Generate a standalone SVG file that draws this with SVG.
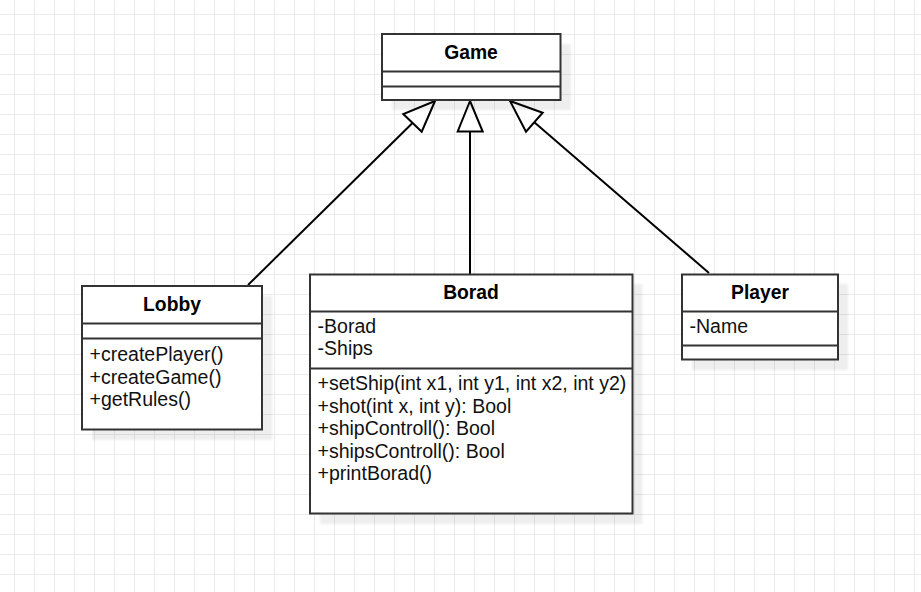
<svg xmlns="http://www.w3.org/2000/svg" width="921" height="592" viewBox="0 0 921 592">
  <defs>
    <pattern id="grid" patternUnits="userSpaceOnUse" x="14" y="14" width="20" height="20">
      <path d="M0.5 0V20M0 0.5H20" fill="none" stroke="#ebebeb" stroke-width="1"/>
    </pattern>
    <filter id="blur" x="-10%" y="-10%" width="120%" height="120%">
      <feGaussianBlur stdDeviation="1.2"/>
    </filter>
  </defs>
  <style>
    .box{fill:#fff;stroke:#333;stroke-width:2}
    .div{stroke:#333;stroke-width:2;fill:none}
    .sh{fill:#000;fill-opacity:0.065;filter:url(#blur)}
    .title{font-family:"Liberation Sans",Arial,sans-serif;font-size:19.3px;font-weight:bold;fill:#000;text-anchor:middle}
    .txt{font-family:"Liberation Sans",Arial,sans-serif;font-size:19.55px;fill:#111}
    .edge{stroke:#000;stroke-width:2;fill:none}
    .head{fill:#fff;stroke:#000;stroke-width:2;stroke-linejoin:miter}
  </style>
  <rect width="921" height="592" fill="#fff"/>
  <rect width="921" height="592" fill="url(#grid)"/>

  <g id="connectors">
    <line class="edge" x1="248" y1="285" x2="412.5" y2="123"/>
    <polygon class="head" points="435,101 403.3,114 421.7,131.7"/>
    <line class="edge" x1="470" y1="274" x2="470" y2="131.5"/>
    <polygon class="head" points="470,101 457.7,131.5 482.7,131.5"/>
    <line class="edge" x1="709" y1="273" x2="534.3" y2="122.2"/>
    <polygon class="head" points="510,101 542.7,112.7 526,131.7"/>
  </g>

  <g id="game">
    <rect class="sh" x="392" y="44" width="179" height="66"/>
    <rect class="box" x="382" y="34" width="178.5" height="66"/>
    <line class="div" x1="382" y1="71.5" x2="560.5" y2="71.5"/>
    <line class="div" x1="382" y1="86.5" x2="560.5" y2="86.5"/>
    <text class="title" x="471" y="59">Game</text>
  </g>

  <g id="lobby">
    <rect class="sh" x="92" y="296" width="180" height="144"/>
    <rect class="box" x="82" y="286" width="180" height="143.5"/>
    <line class="div" x1="82" y1="323.5" x2="262" y2="323.5"/>
    <line class="div" x1="82" y1="338.5" x2="262" y2="338.5"/>
    <text class="title" x="172" y="311">Lobby</text>
    <text class="txt" x="89.5" y="361">+createPlayer()</text>
    <text class="txt" x="89.5" y="383.5">+createGame()</text>
    <text class="txt" x="89.5" y="405.5">+getRules()</text>
  </g>

  <g id="borad">
    <rect class="sh" x="320" y="284" width="322.5" height="240"/>
    <rect class="box" x="310" y="274.5" width="322.5" height="239"/>
    <line class="div" x1="310" y1="311.5" x2="632.5" y2="311.5"/>
    <line class="div" x1="310" y1="368.5" x2="632.5" y2="368.5"/>
    <text class="title" x="471" y="299">Borad</text>
    <text class="txt" x="317.5" y="333">-Borad</text>
    <text class="txt" x="317.5" y="355">-Ships</text>
    <text class="txt" x="317.5" y="390">+setShip(int x1, int y1, int x2, int y2)</text>
    <text class="txt" x="317.5" y="412.5">+shot(int x, int y): Bool</text>
    <text class="txt" x="317.5" y="435">+shipControll(): Bool</text>
    <text class="txt" x="317.5" y="457.5">+shipsControll(): Bool</text>
    <text class="txt" x="317.5" y="480">+printBorad()</text>
  </g>

  <g id="player">
    <rect class="sh" x="692" y="284" width="156" height="86"/>
    <rect class="box" x="682" y="274.5" width="156" height="85"/>
    <line class="div" x1="682" y1="311.5" x2="838" y2="311.5"/>
    <line class="div" x1="682" y1="345.5" x2="838" y2="345.5"/>
    <text class="title" x="760" y="299">Player</text>
    <text class="txt" x="689.5" y="333">-Name</text>
  </g>
</svg>
